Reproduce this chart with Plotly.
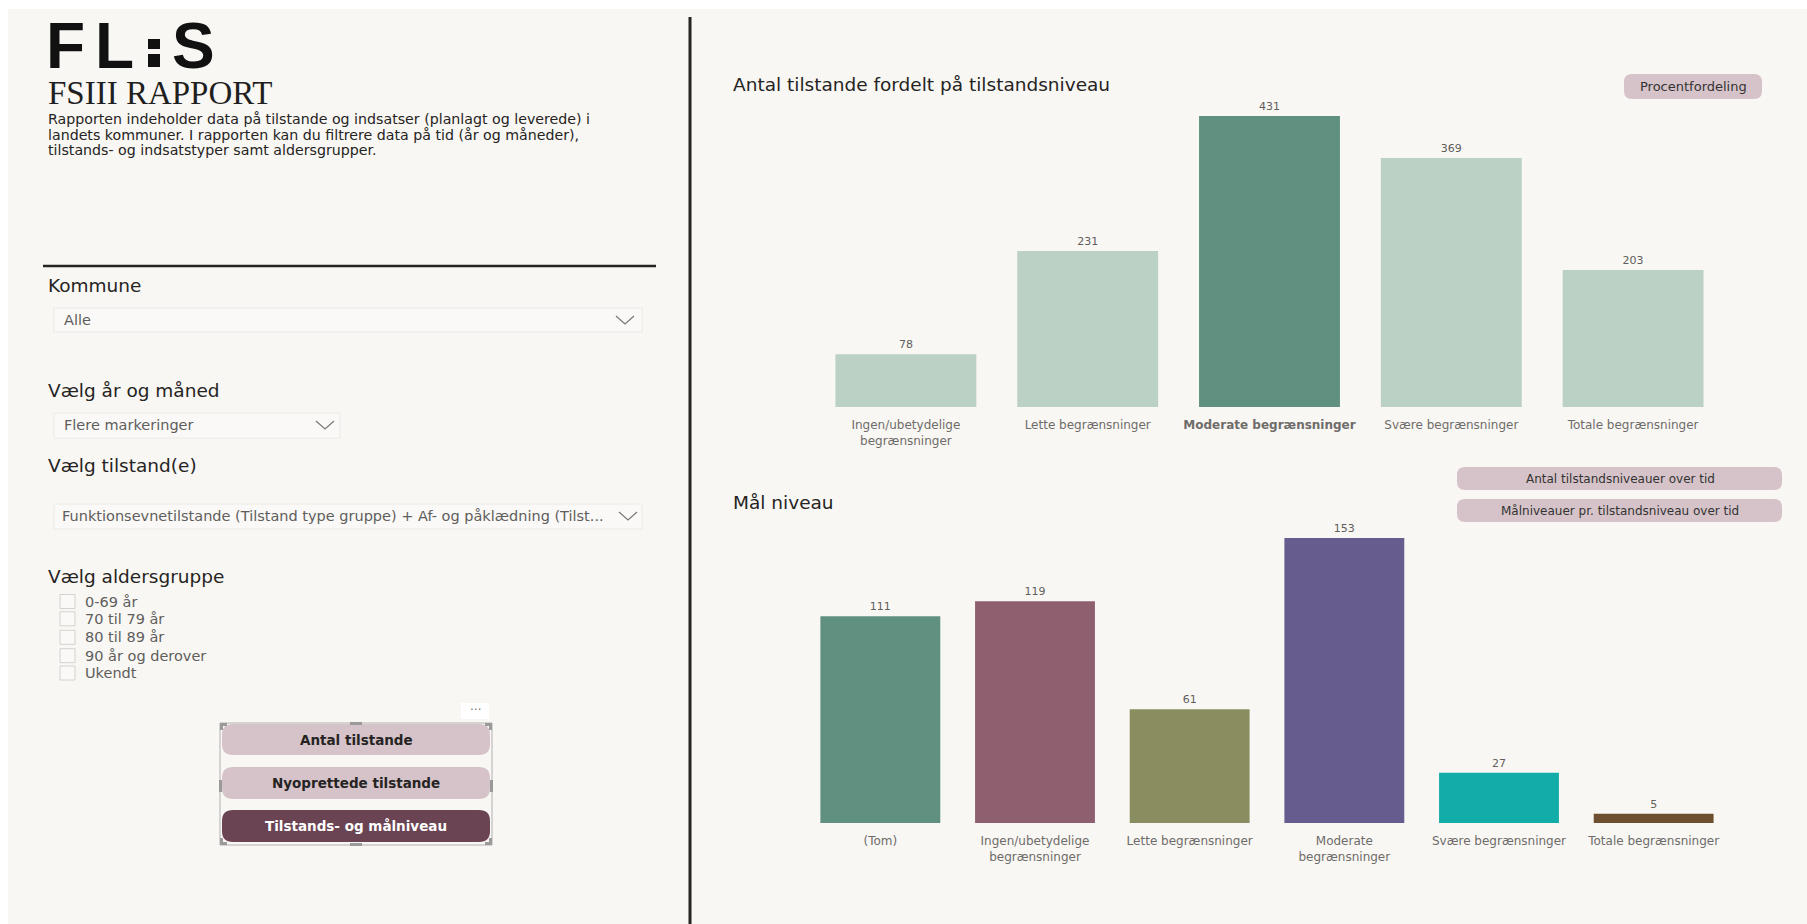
import plotly.graph_objects as go

W, H = 1807, 924

# ---- data ----
level_categories = ["Ingen/ubetydelige begrænsninger", "Lette begrænsninger",
                    "Moderate begrænsninger", "Svære begrænsninger", "Totale begrænsninger"]
level_ticktext = ["Ingen/ubetydelige<br>begrænsninger", "Lette begrænsninger",
                  "<b>Moderate begrænsninger</b>", "Svære begrænsninger", "Totale begrænsninger"]
level_counts = [78, 231, 431, 369, 203]
level_colors = ["#BCD1C5", "#BCD1C5", "#5F9080", "#BCD1C5", "#BCD1C5"]

goal_categories = ["(Tom)", "Ingen/ubetydelige begrænsninger", "Lette begrænsninger",
                   "Moderate begrænsninger", "Svære begrænsninger", "Totale begrænsninger"]
goal_ticktext = ["(Tom)", "Ingen/ubetydelige<br>begrænsninger", "Lette begrænsninger",
                 "Moderate<br>begrænsninger", "Svære begrænsninger", "Totale begrænsninger"]
goal_counts = [111, 119, 61, 153, 27, 5]
goal_colors = ["#5F9080", "#8E5F6E", "#8A8D5F", "#675C8E", "#12ADA8", "#6E4F2F"]

age_groups = ["0-69 år", "70 til 79 år", "80 til 89 år", "90 år og derover", "Ukendt"]
description = [
    "Rapporten indeholder data på tilstande og indsatser (planlagt og leverede) i",
    "landets kommuner. I rapporten kan du filtrere data på tid (år og måneder),",
    "tilstands- og indsatstyper samt aldersgrupper.",
]

BG = "#F9F7F3"
DARK = "#252423"
GREY = "#605E5C"
PINK = "#D6C3C9"
PLUM = "#6B4453"
SANS = "DejaVu Sans"


def px(x):
    return x / W


def py(y):
    return 1 - y / H


shapes = []
annotations = []


def txt(x, y, s, size, color=DARK, family=SANS, xanchor="left"):
    annotations.append(dict(x=px(x), y=py(y), xref="paper", yref="paper", text=s,
                            showarrow=False, xanchor=xanchor, yanchor="middle",
                            font=dict(size=size, color=color, family=family)))


def rect(x0, y0, x1, y1, fill, line=None, lw=1):
    shapes.append(dict(type="rect", xref="paper", yref="paper",
                       x0=px(x0), x1=px(x1), y0=py(y1), y1=py(y0),
                       fillcolor=fill, line=dict(width=lw if line else 0, color=line or fill),
                       layer="below"))


def rrect(x0, y0, x1, y1, r, fill, line=None, lw=1):
    rx, ry = r / W, r / H
    a, b = px(x0), px(x1)
    t, btm = py(y0), py(y1)
    path = (f"M {a+rx},{t} L {b-rx},{t} Q {b},{t} {b},{t-ry} "
            f"L {b},{btm+ry} Q {b},{btm} {b-rx},{btm} "
            f"L {a+rx},{btm} Q {a},{btm} {a},{btm+ry} "
            f"L {a},{t-ry} Q {a},{t} {a+rx},{t} Z")
    shapes.append(dict(type="path", xref="paper", yref="paper", path=path,
                       fillcolor=fill, line=dict(width=lw if line else 0, color=line or fill),
                       layer="below"))


def line(x0, y0, x1, y1, color, width):
    shapes.append(dict(type="line", xref="paper", yref="paper",
                       x0=px(x0), y0=py(y0), x1=px(x1), y1=py(y1),
                       line=dict(color=color, width=width)))


def chevron(cx, cy):
    path = f"M {px(cx-9)},{py(cy-4)} L {px(cx)},{py(cy+4)} L {px(cx+9)},{py(cy-4)}"
    shapes.append(dict(type="path", xref="paper", yref="paper", path=path,
                       line=dict(color="#7A7876", width=1.2)))


# ---- page background ----
rect(8, 9, W, H, BG)

# ---- left panel: logo & intro ----
for glyph, gx in [("F", 44), ("L", 93), ("S", 170)]:
    annotations.append(dict(x=px(gx), y=py(46), xref="paper", yref="paper", text=f"<b>{glyph}</b>",
                            showarrow=False, xanchor="left", yanchor="middle",
                            font=dict(size=64, color="#111111", family="Liberation Sans")))
rect(148, 39, 160, 49, "#111111")
rect(148, 54, 160, 67, "#111111")

txt(46, 93, "FSIII RAPPORT", 33, "#1F1F1F", "Liberation Serif")
for i, ln in enumerate(description):
    txt(46, 119 + 15.5 * i, ln, 14.2, DARK)

line(43, 266, 656, 266, DARK, 2.5)

# filters
txt(46, 285, "Kommune", 18.5)
rect(54, 308, 642, 332, "#FAF9F7", "#ECEAE6")
txt(62, 320, "Alle", 14.5, GREY)
chevron(625, 320)

txt(46, 390, "Vælg år og måned", 18.5)
rect(54, 413, 340, 438, "#FAF9F7", "#ECEAE6")
txt(62, 425, "Flere markeringer", 14.5, GREY)
chevron(325, 425)

txt(46, 466, "Vælg tilstand(e)", 18.5)
rect(54, 504, 642, 529, "#FAF9F7", "#ECEAE6")
txt(60, 516, "Funktionsevnetilstande (Tilstand type gruppe) + Af- og påklædning (Tilst...", 14.5, GREY)
chevron(628, 516)

txt(46, 576, "Vælg aldersgruppe", 18.5)
for i, grp in enumerate(age_groups):
    cy = [601.5, 618.8, 637.3, 655.7, 673][i]
    rect(60, cy - 7, 75, cy + 7, "#FAF9F7", "#D4D2CF")
    txt(83, cy, grp, 14.5, GREY)

# page navigation buttons
rrect(222, 724, 490, 755, 11, PINK)
txt(356, 740, "<b>Antal tilstande</b>", 13.5, DARK, xanchor="center")
rrect(222, 767, 490, 799, 11, PINK)
txt(356, 783, "<b>Nyoprettede tilstande</b>", 13.5, DARK, xanchor="center")
rrect(222, 810, 490, 842, 11, PLUM)
txt(356, 826, "<b>Tilstands- og målniveau</b>", 13.5, "#FFFFFF", xanchor="center")

# selection frame around the buttons
rect(220, 723, 492, 845, "rgba(0,0,0,0)", "#B0B0B0", 1)
for hx, hy, hw, hh in [(220, 723, 7, 3), (220, 723, 3, 7), (485, 723, 7, 3), (489, 723, 3, 7),
                       (220, 842, 7, 3), (220, 838, 3, 7), (485, 842, 7, 3), (489, 838, 3, 7),
                       (350, 722, 12, 3), (350, 843, 12, 3), (219, 780, 3, 12), (490, 780, 3, 12)]:
    rect(hx, hy, hx + hw, hy + hh, "#9A9A9A")
rect(461, 703, 489, 719, "#FFFFFF")
txt(475, 710, "···", 12, "#777777", xanchor="center")

# ---- divider ----
line(690, 17, 690, H, DARK, 3)

# ---- right panel headers & buttons ----
txt(731, 84, "Antal tilstande fordelt på tilstandsniveau", 18.5)
rrect(1624, 74, 1762, 99, 8, PINK)
txt(1693, 87, "Procentfordeling", 13, "#333333", xanchor="center")

txt(731, 502, "Mål niveau", 18.5)
rrect(1457, 467, 1782, 490, 8, PINK)
txt(1620, 479, "Antal tilstandsniveauer over tid", 12, "#333333", xanchor="center")
rrect(1457, 499, 1782, 522, 8, PINK)
txt(1620, 511, "Målniveauer pr. tilstandsniveau over tid", 12, "#333333", xanchor="center")

# ---- charts ----
fig = go.Figure()
fig.add_trace(go.Bar(
    x=level_categories, y=level_counts, marker=dict(color=level_colors, line=dict(width=0)),
    text=[str(v) for v in level_counts], textposition="outside",
    textfont=dict(size=11, color=GREY, family=SANS), cliponaxis=False,
    xaxis="x", yaxis="y", hoverinfo="x+y"))
fig.add_trace(go.Bar(
    x=goal_categories, y=goal_counts, marker=dict(color=goal_colors, line=dict(width=0)),
    text=[str(v) for v in goal_counts], textposition="outside",
    textfont=dict(size=11, color=GREY, family=SANS), cliponaxis=False,
    xaxis="x2", yaxis="y2", hoverinfo="x+y"))

axis_common = dict(showgrid=False, zeroline=False, showline=False, ticks="",
                   tickfont=dict(size=12, color="#6E6C6A", family=SANS))

fig.update_layout(
    width=W, height=H, margin=dict(l=0, r=0, t=0, b=0),
    paper_bgcolor="#FFFFFF", plot_bgcolor="rgba(0,0,0,0)",
    showlegend=False, bargap=0.225,
    xaxis=dict(domain=[px(815), px(1724)], anchor="y", type="category",
               tickvals=level_categories, ticktext=level_ticktext,
               ticklabelstandoff=9, **axis_common),
    yaxis=dict(domain=[py(407), py(96.5)], range=[0, 460], anchor="x",
               showticklabels=False, showgrid=False, zeroline=False),
    xaxis2=dict(domain=[px(803), px(1731)], anchor="y2", type="category",
                tickvals=goal_categories, ticktext=goal_ticktext,
                ticklabelstandoff=9, **axis_common),
    yaxis2=dict(domain=[py(823), py(515.6)], range=[0, 165], anchor="x2",
                showticklabels=False, showgrid=False, zeroline=False),
    shapes=shapes, annotations=annotations,
)

fig.write_html("out.html")
